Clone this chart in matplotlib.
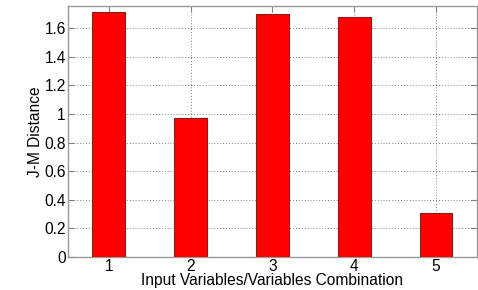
import matplotlib
matplotlib.use("Agg")
import matplotlib.pyplot as plt

# J-M distance per input variable / combination
categories = [1, 2, 3, 4, 5]
jm_distance = [1.714, 0.975, 1.697, 1.680, 0.31]
y_ticks = [0, 0.2, 0.4, 0.6, 0.8, 1, 1.2, 1.4, 1.6]
y_tick_labels = ["0", "0.2", "0.4", "0.6", "0.8", "1", "1.2", "1.4", "1.6"]

plt.rcParams["font.family"] = ["Liberation Sans", "DejaVu Sans"]

fig = plt.figure(figsize=(4.78, 2.9), dpi=100)
ax = fig.add_axes((0.142, 0.114, 0.856, 0.865))

ax.bar(categories, jm_distance, width=0.4, color="#ff0000",
       edgecolor="#8b1a1a", linewidth=0.8, zorder=3)

ax.set_xlim(0.5, 5.5)
ax.set_ylim(0, 1.755)
ax.set_xticks(categories)
ax.set_yticks(y_ticks)
ax.set_yticklabels(y_tick_labels)

# MATLAB-like box with dotted grid
ax.grid(True, linestyle=(0, (1, 2)), color="#808080", linewidth=0.7, zorder=0)
for spine in ax.spines.values():
    spine.set_color("#9a9a9a")
    spine.set_linewidth(1.0)
ax.tick_params(direction="in", length=4, color="#808080", labelsize=11.2,
               top=True, right=True, pad=1.5)

ax.set_xlabel("Input Variables/Variables Combination", fontsize=11.2, labelpad=-1)
ax.set_ylabel("J-M Distance", fontsize=11.2, labelpad=1)

fig.savefig("out.png", dpi=100)
